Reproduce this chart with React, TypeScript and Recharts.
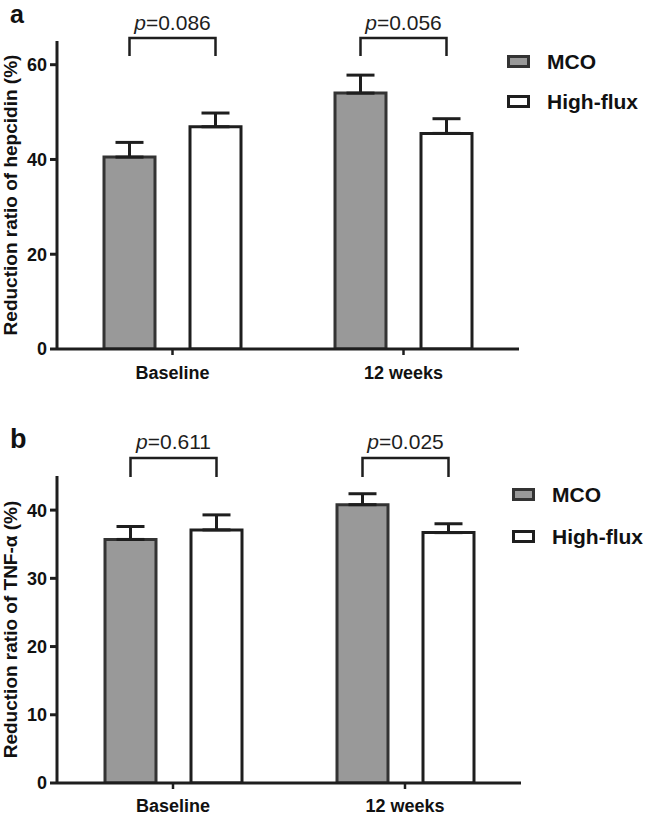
import React from 'react';
import { BarChart, Bar, XAxis, YAxis, ErrorBar, LabelList, Legend, Label } from 'recharts';

// ---------- data ----------
const categories = ['Baseline', '12 weeks'];
const seriesNames = ['MCO', 'High-flux'];
const seriesKeys = ['mco', 'hf'];

const hepcidinMCO = [40.5, 54.0];
const hepcidinMCOErr = [3.1, 3.8];
const hepcidinHighFlux = [46.9, 45.5];
const hepcidinHighFluxErr = [2.9, 3.1];
const hepcidinP = ['0.086', '0.056'];
const hepcidinTicks = [0, 20, 40, 60];

const tnfMCO = [35.7, 40.8];
const tnfMCOErr = [1.9, 1.6];
const tnfHighFlux = [37.1, 36.7];
const tnfHighFluxErr = [2.2, 1.3];
const tnfP = ['0.611', '0.025'];
const tnfTicks = [0, 10, 20, 30, 40];

const buildRows = (mco: number[], mcoErr: number[], hf: number[], hfErr: number[], p: string[]) =>
  categories.map((name, i) => ({ name, mco: mco[i], mcoErr: mcoErr[i], hf: hf[i], hfErr: hfErr[i], p: p[i] }));

const hepcidinRows = buildRows(hepcidinMCO, hepcidinMCOErr, hepcidinHighFlux, hepcidinHighFluxErr, hepcidinP);
const tnfRows = buildRows(tnfMCO, tnfMCOErr, tnfHighFlux, tnfHighFluxErr, tnfP);

// ---------- style ----------
const FONT = '"Liberation Sans", Arial, Helvetica, sans-serif';
const BAR_SIZE = 51;
const BAR_GAP = 35;
const INK = '#1e1e1e';
const SERIES_STYLE: Record<string, { fill: string; stroke: string }> = {
  mco: { fill: '#999999', stroke: '#333333' },
  hf: { fill: '#ffffff', stroke: '#1e1e1e' },
};

type PanelCfg = {
  letter: string;
  letterY: number;
  letterSize: number;
  height: number;
  top: number;
  right: number;
  bottom: number;
  domain: [number, number];
  ticks: number[];
  yLabel: string;
  bracketTop: number;
  bracketLeg: number;
  textY: number;
  legendLeft: number;
  legendTop: number;
  legendRow: number;
  xTickMargin: number;
};

const makeBracket = (cfg: PanelCfg) => (props: any) => {
  const vb = props.viewBox && props.viewBox.width != null ? props.viewBox : props;
  const x = Number(vb.x);
  const w = Number(vb.width);
  const x1 = x + w / 2;
  const x2 = x1 + w + BAR_GAP;
  const cx = (x1 + x2) / 2;
  return (
    <g>
      <path
        d={`M${x1},${cfg.bracketLeg} V${cfg.bracketTop} H${x2} V${cfg.bracketLeg}`}
        fill="none"
        stroke={INK}
        strokeWidth={2.5}
      />
      <text x={cx} y={cfg.textY} textAnchor="middle" fontSize={21} fontFamily={FONT} fill={INK}>
        <tspan fontStyle="italic">p</tspan>
        {'=' + props.value}
      </text>
    </g>
  );
};

const makeLegend = (cfg: PanelCfg) => (props: any) => {
  const payload = [...(props.payload || [])].sort(
    (a: any, b: any) => seriesKeys.indexOf(a.dataKey) - seriesKeys.indexOf(b.dataKey)
  );
  return (
    <div style={{ fontFamily: FONT, fontWeight: 'bold', fontSize: 21, color: '#111' }}>
      {payload.map((e: any, i: number) => {
        const st = SERIES_STYLE[e.dataKey as string] || { fill: e.color, stroke: INK };
        return (
          <div key={i} style={{ display: 'flex', alignItems: 'center', height: cfg.legendRow }}>
            <svg width={23} height={13} style={{ display: 'block' }}>
              <rect x={1.5} y={1.5} width={20} height={10} fill={st.fill} stroke={st.stroke} strokeWidth={3} />
            </svg>
            <span style={{ marginLeft: 17, lineHeight: 1 }}>{e.value}</span>
          </div>
        );
      })}
    </div>
  );
};

const Panel = ({ cfg, rows }: { cfg: PanelCfg; rows: any[] }) => {
  const tickStyle = { fill: '#111', fontSize: 18, fontWeight: 'bold', fontFamily: FONT };
  return (
    <div style={{ position: 'relative', width: 645, height: cfg.height }}>
      <BarChart
        width={645}
        height={cfg.height}
        data={rows}
        margin={{ top: cfg.top, right: cfg.right, bottom: cfg.bottom, left: 0 }}
        barSize={BAR_SIZE}
        barGap={BAR_GAP}
      >
        <XAxis
          dataKey="name"
          height={30}
          tickSize={6}
          tickMargin={cfg.xTickMargin}
          axisLine={{ stroke: INK, strokeWidth: 3 }}
          tickLine={{ stroke: INK, strokeWidth: 2.5 }}
          tick={tickStyle}
          interval={0}
        />
        <YAxis
          width={57}
          domain={cfg.domain}
          ticks={cfg.ticks}
          type="number"
          allowDataOverflow
          tickSize={7}
          tickMargin={3}
          axisLine={{ stroke: INK, strokeWidth: 3 }}
          tickLine={{ stroke: INK, strokeWidth: 3 }}
          tick={tickStyle}
        >
          <Label
            content={(p: any) => {
              const vb = p.viewBox || {};
              const cy = (vb.y ?? cfg.top) + (vb.height ?? 0) / 2;
              return (
                <text
                  x={17}
                  y={cy}
                  transform={`rotate(-90 17 ${cy})`}
                  textAnchor="middle"
                  fontSize={19}
                  fontWeight="bold"
                  fontFamily={FONT}
                  fill="#111"
                >
                  {cfg.yLabel}
                </text>
              );
            }}
          />
        </YAxis>
        <Legend
          layout="vertical"
          align="center"
          verticalAlign="middle"
          wrapperStyle={{ left: cfg.legendLeft, top: cfg.legendTop, width: 140 }}
          content={makeLegend(cfg)}
        />
        <Bar
          dataKey="mco"
          name={seriesNames[0]}
          fill={SERIES_STYLE.mco.fill}
          stroke={SERIES_STYLE.mco.stroke}
          strokeWidth={3}
          isAnimationActive={false}
        >
          <ErrorBar
            dataKey={(d: any) => [0, d.mcoErr]}
            direction="y"
            width={14}
            stroke={INK}
            strokeWidth={3}
            isAnimationActive={false}
          />
          <LabelList dataKey="p" content={makeBracket(cfg)} />
        </Bar>
        <Bar
          dataKey="hf"
          name={seriesNames[1]}
          fill={SERIES_STYLE.hf.fill}
          stroke={SERIES_STYLE.hf.stroke}
          strokeWidth={3}
          isAnimationActive={false}
        >
          <ErrorBar
            dataKey={(d: any) => [0, d.hfErr]}
            direction="y"
            width={14}
            stroke={INK}
            strokeWidth={3}
            isAnimationActive={false}
          />
        </Bar>
      </BarChart>
      <svg
        width={60}
        height={60}
        style={{ position: 'absolute', left: 0, top: 0, pointerEvents: 'none' }}
      >
        <text x={10} y={cfg.letterY} fontSize={cfg.letterSize} fontWeight="bold" fontFamily={FONT} fill="#111">
          {cfg.letter}
        </text>
      </svg>
    </div>
  );
};

const panelA: PanelCfg = {
  letter: 'a',
  letterY: 23,
  letterSize: 25,
  height: 400,
  top: 41,
  right: 126,
  bottom: 21,
  domain: [0, 65],
  ticks: hepcidinTicks,
  yLabel: 'Reduction ratio of hepcidin (%)',
  bracketTop: 38,
  bracketLeg: 56,
  textY: 29.5,
  legendLeft: 507,
  legendTop: 41,
  legendRow: 40,
  xTickMargin: 11,
};

const panelB: PanelCfg = {
  letter: 'b',
  letterY: 48,
  letterSize: 27,
  height: 416,
  top: 76,
  right: 124,
  bottom: 3,
  domain: [0, 45],
  ticks: tnfTicks,
  yLabel: 'Reduction ratio of TNF-α (%)',
  bracketTop: 58,
  bracketLeg: 77,
  textY: 49,
  legendLeft: 512,
  legendTop: 73,
  legendRow: 42,
  xTickMargin: 10,
};

export default function App() {
  return (
    <div style={{ position: 'absolute', left: 0, top: 0, width: 645, height: 816, background: '#fff' }}>
      <Panel cfg={panelA} rows={hepcidinRows} />
      <Panel cfg={panelB} rows={tnfRows} />
    </div>
  );
}
